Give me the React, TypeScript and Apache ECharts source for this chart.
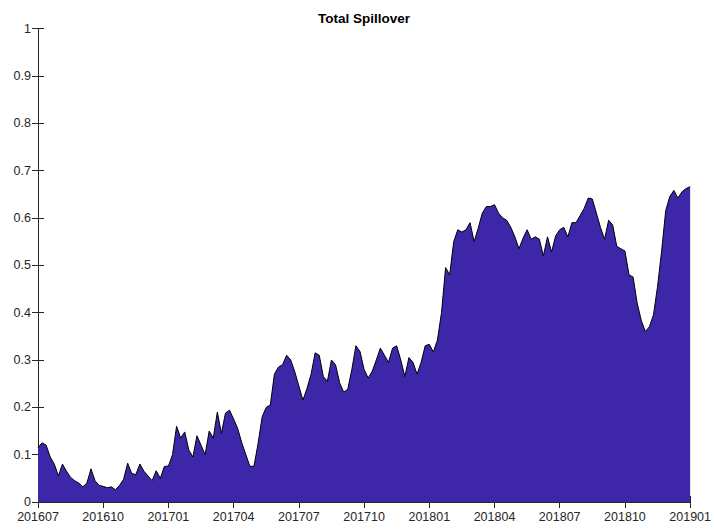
import React, { useEffect, useRef } from "react";
import * as echarts from "echarts";

// Total spillover index, sampled 16 points per quarter (index 0 = 201607, index 160 = 201901)
const spillover: number[] = [
  0.115, 0.125, 0.12, 0.095, 0.08, 0.055, 0.08, 0.065, 0.052, 0.045,
  0.04, 0.032, 0.04, 0.07, 0.045, 0.035, 0.033, 0.03, 0.032, 0.026,
  0.035, 0.048, 0.082, 0.06, 0.058, 0.08, 0.065, 0.055, 0.045, 0.066,
  0.05, 0.075, 0.076, 0.1, 0.16, 0.135, 0.148, 0.11, 0.095, 0.14,
  0.12, 0.1, 0.15, 0.135, 0.19, 0.145, 0.188, 0.194, 0.175, 0.155,
  0.125, 0.1, 0.075, 0.076, 0.124, 0.18, 0.2, 0.205, 0.27, 0.285,
  0.29, 0.31, 0.3, 0.275, 0.245, 0.215, 0.24, 0.27, 0.315, 0.31,
  0.265, 0.255, 0.3, 0.29, 0.252, 0.232, 0.238, 0.28, 0.33, 0.318,
  0.28, 0.262, 0.276, 0.3, 0.325, 0.31, 0.295, 0.325, 0.33, 0.3,
  0.265, 0.305, 0.295, 0.27, 0.295, 0.33, 0.333, 0.317, 0.342, 0.4,
  0.495, 0.48, 0.55, 0.575, 0.57, 0.575, 0.59, 0.55, 0.578, 0.61,
  0.624, 0.624, 0.628, 0.61, 0.6, 0.595, 0.58, 0.56, 0.535, 0.557,
  0.575, 0.555, 0.56, 0.555, 0.52, 0.56, 0.528, 0.562, 0.575, 0.58,
  0.56, 0.59, 0.59, 0.605, 0.62, 0.642, 0.64, 0.61, 0.58, 0.555,
  0.595, 0.585, 0.54, 0.535, 0.53, 0.48, 0.475, 0.42, 0.384, 0.36,
  0.37, 0.395, 0.455, 0.53, 0.615, 0.645, 0.658, 0.642, 0.655, 0.662,
  0.666,
];

const xTickLabels: string[] = [
  "201607", "201610", "201701", "201704", "201707", "201710",
  "201801", "201804", "201807", "201810", "201901",
];
const pointsPerTick = 16;

export default function App() {
  const ref = useRef<HTMLDivElement>(null);
  useEffect(() => {
    if (!ref.current) return;
    const chart = echarts.init(ref.current, undefined, { renderer: "svg" });
    const axisColor = "#262626";
    const font = "'Liberation Sans', Arial, Helvetica, sans-serif";
    const maxX = pointsPerTick * (xTickLabels.length - 1);
    chart.setOption({
      animation: false,
      backgroundColor: "#ffffff",
      title: {
        text: "Total Spillover",
        left: 359,
        top: 6,
        textAlign: "center",
        textStyle: { fontFamily: font, fontSize: 13.5, fontWeight: "bold", color: "#000" },
      },
      grid: { left: 38, right: 22, top: 28.5, bottom: 27, containLabel: false },
      xAxis: [
        {
          type: "value",
          min: 0,
          max: maxX,
          interval: pointsPerTick,
          position: "bottom",
          axisLine: { show: true, lineStyle: { color: axisColor, width: 1 } },
          axisTick: { show: true, inside: true, length: 6, lineStyle: { color: axisColor } },
          axisLabel: {
            color: axisColor,
            fontFamily: font,
            fontSize: 12.5,
            margin: 8,
            formatter: (v: number) => xTickLabels[Math.round(v / pointsPerTick)] ?? "",
          },
          splitLine: { show: false },
        },
        {
          type: "value",
          min: 0,
          max: maxX,
          interval: pointsPerTick,
          position: "top",
          axisLine: { show: true, lineStyle: { color: axisColor, width: 1 } },
          axisTick: { show: true, inside: true, length: 6, lineStyle: { color: axisColor } },
          axisLabel: { show: false },
          splitLine: { show: false },
        },
      ],
      yAxis: [
        {
          type: "value",
          min: 0,
          max: 1,
          interval: 0.1,
          position: "left",
          axisLine: { show: true, lineStyle: { color: axisColor, width: 1 } },
          axisTick: { show: true, inside: true, length: 6, lineStyle: { color: axisColor } },
          axisLabel: {
            color: axisColor,
            fontFamily: font,
            fontSize: 12.5,
            margin: 7,
            formatter: (v: number) => String(Math.round(v * 10) / 10),
          },
          splitLine: { show: false },
        },
        {
          type: "value",
          min: 0,
          max: 1,
          interval: 0.1,
          position: "right",
          axisLine: { show: true, lineStyle: { color: axisColor, width: 1 } },
          axisTick: { show: true, inside: true, length: 6, lineStyle: { color: axisColor } },
          axisLabel: { show: false },
          splitLine: { show: false },
        },
      ],
      series: [
        {
          type: "line",
          xAxisIndex: 0,
          yAxisIndex: 0,
          data: spillover.map((v, i) => [i, v]),
          showSymbol: false,
          symbol: "none",
          lineStyle: { color: "#000000", width: 1 },
          areaStyle: { color: "#3E26A8", opacity: 1 },
          z: 1,
        },
      ],
    });
    return () => chart.dispose();
  }, []);
  return <div ref={ref} style={{ width: 714, height: 529, position: "absolute", left: 0, top: 0 }} />;
}
